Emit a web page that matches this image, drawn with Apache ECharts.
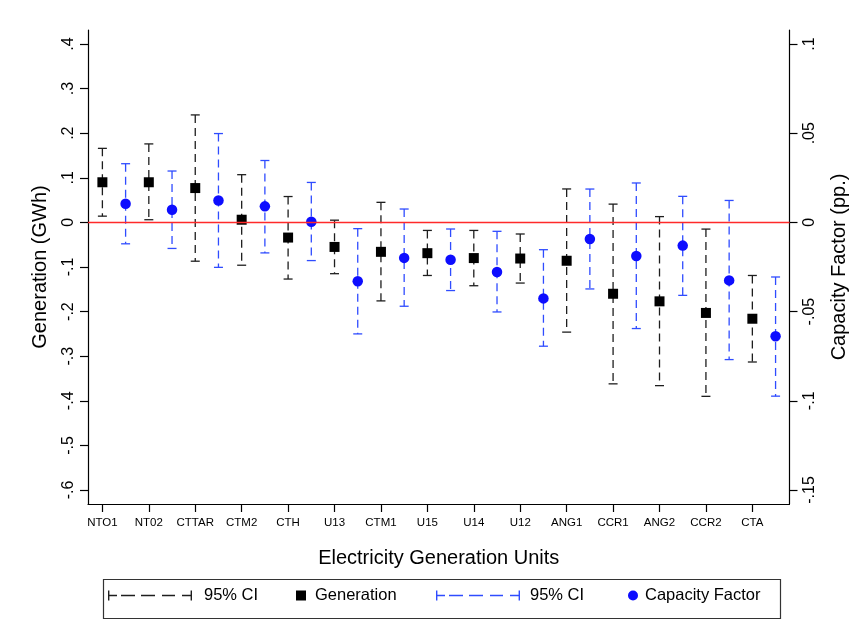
<!DOCTYPE html>
<html>
<head>
<meta charset="utf-8">
<script src="https://cdn.jsdelivr.net/npm/echarts@6/dist/echarts.min.js"></script>
<style>
  html, body { margin: 0; background: #fff; }
  #chart { width: 862px; height: 630px; }
</style>
</head>
<body>
<div id="chart"></div>
<script>
// Unit-level effects with 95% CIs: generation (left axis, GWh) and
// capacity factor (right axis, pp.). Generation sits on the unit tick,
// capacity factor half a slot to its right.
const units = ["NTO1", "NT02", "CTTAR", "CTM2", "CTH", "U13", "CTM1", "U15", "U14", "U12", "ANG1", "CCR1", "ANG2", "CCR2", "CTA"]

const genMean = [0.090, 0.090, 0.077, 0.006, -0.034, -0.055, -0.066, -0.069, -0.080, -0.081, -0.086, -0.160, -0.177, -0.203, -0.216]
const genLow = [0.014, 0.006, -0.087, -0.096, -0.127, -0.115, -0.176, -0.119, -0.142, -0.136, -0.246, -0.362, -0.366, -0.390, -0.313]
const genHigh = [0.166, 0.176, 0.241, 0.107, 0.058, 0.005, 0.045, -0.018, -0.018, -0.026, 0.075, 0.041, 0.013, -0.015, -0.119]

const cfMean = [0.0105, 0.0071, 0.0123, 0.0090, 0.0004, -0.0330, -0.0199, -0.0209, -0.0278, -0.0426, -0.0093, -0.0188, -0.0130, -0.0325, -0.0638]
const cfLow = [-0.0120, -0.0146, -0.0252, -0.0171, -0.0214, -0.0625, -0.0470, -0.0382, -0.0502, -0.0694, -0.0373, -0.0595, -0.0409, -0.0769, -0.0974]
const cfHigh = [0.0329, 0.0288, 0.0498, 0.0347, 0.0224, -0.0035, 0.0075, -0.0037, -0.0050, -0.0153, 0.0187, 0.0221, 0.0146, 0.0123, -0.0306]

const genTicks = [-0.6, -0.5, -0.4, -0.3, -0.2, -0.1, 0, 0.1, 0.2, 0.3, 0.4]
const cfTicks = [-0.15, -0.1, -0.05, 0, 0.05, 0.1]

const FONT = "'Liberation Sans', Arial, Helvetica, sans-serif"
const BLACK = "#1e1e1e"
const BLUE = "#0d0dff"
const BLUE_LINE = "#2f4cff"
const RED = "#ff2a2a"

// Stata-style numbers: no leading zero (".4", "-.05").
const stata = v => Math.abs(v) < 1e-9 ? "0" : String(+v.toFixed(3)).replace(/^(-?)0\./, "$1.")

const genX = i => 2 * i
const cfX = i => 2 * i + 1
const slots = units.map((u, i) => genX(i))

const ciIcon = "path://M0,0h1.4v10h-1.4z M0,4.3h9v1.4h-9z M13,4.3h14v1.4h-14z M33,4.3h14v1.4h-14z " +
  "M54,4.3h13v1.4h-13z M74,4.3h10v1.4h-10z M82.6,0h1.4v10h-1.4z"

function ciSeries(name, xOf, lo, hi, yAxisIndex, color) {
  return {
    name, type: "custom", yAxisIndex, z: 2,
    itemStyle: {color},
    encode: {x: 0, y: [1, 2]},
    data: units.map((u, i) => [xOf(i), lo[i], hi[i]]),
    renderItem(params, api) {
      const top = api.coord([api.value(0), api.value(2)])
      const bot = api.coord([api.value(0), api.value(1)])
      const w = 4.5
      const style = {stroke: color, lineWidth: 1.3, fill: null}
      return {
        type: "group",
        children: [
          {type: "line", shape: {x1: top[0], y1: top[1], x2: bot[0], y2: bot[1]}, style: {...style, lineDash: [8, 5]}},
          {type: "line", shape: {x1: top[0] - w, y1: top[1], x2: top[0] + w, y2: top[1]}, style},
          {type: "line", shape: {x1: bot[0] - w, y1: bot[1], x2: bot[0] + w, y2: bot[1]}, style},
        ],
      }
    },
  }
}

const legendText = {ciGen: "95% CI", gen: "Generation", ciCf: "95% CI", cf: "Capacity Factor"}
const legendItem = (name, left, itemWidth, icon, color, pad) => ({
  data: [{name, icon, itemStyle: {color}}],
  left, top: 587, padding: 0, itemWidth, itemHeight: 10,
  formatter: n => legendText[n],
  textStyle: {fontFamily: FONT, fontSize: 16.5, color: "#000", padding: [0, 0, 0, pad]},
  selectedMode: false,
})

const axisCommon = {
  axisLine: {onZero: false, lineStyle: {color: "#000", width: 1.2}},
  axisTick: {length: 8, lineStyle: {color: "#000", width: 1.2}},
  splitLine: {show: false},
  nameLocation: "middle",
  nameTextStyle: {fontFamily: FONT, fontSize: 20, color: "#000"},
}

const option = {
  animation: false,
  backgroundColor: "#fff",
  grid: {left: 88, right: 72.5, top: 30, bottom: 126},
  xAxis: {
    ...axisCommon,
    type: "value", min: -0.62, max: 29.6,
    name: "Electricity Generation Units", nameGap: 44,
    axisTick: {...axisCommon.axisTick, customValues: slots},
    axisLabel: {customValues: slots, formatter: v => units[Math.round(v / 2)], margin: 13,
      fontFamily: FONT, fontSize: 11.5, color: "#000"},
  },
  yAxis: [
    {
      ...axisCommon,
      type: "value", min: -0.6314, max: 0.4314,
      name: "Generation (GWh)", nameRotate: 90, nameGap: 38,
      axisTick: {...axisCommon.axisTick, customValues: genTicks},
      axisLabel: {customValues: genTicks, formatter: stata, rotate: 90, margin: 11,
        fontFamily: FONT, fontSize: 16, color: "#000"},
    },
    {
      ...axisCommon,
      type: "value", position: "right", min: -0.15785, max: 0.10785,
      name: "Capacity Factor (pp.)", nameRotate: 90, nameGap: 40,
      axisTick: {...axisCommon.axisTick, customValues: cfTicks},
      axisLabel: {customValues: cfTicks, formatter: stata, rotate: 90, margin: 12,
        fontFamily: FONT, fontSize: 16, color: "#000"},
    },
  ],
  legend: [
    legendItem("ciGen", 108, 84, ciIcon, BLACK, 7),
    legendItem("gen", 296, 10, "rect", "#000", 4),
    legendItem("ciCf", 436, 84, ciIcon, BLUE_LINE, 5),
    legendItem("cf", 628, 10, "circle", BLUE, 2),
  ],
  graphic: [{
    type: "rect", left: 101, top: 577, silent: true,
    shape: {width: 677, height: 39},
    style: {fill: null, stroke: "#333", lineWidth: 1.2},
  }],
  series: [
    {
      ...ciSeries("ciGen", genX, genLow, genHigh, 0, BLACK),
      markLine: {
        silent: true, symbol: "none", label: {show: false},
        lineStyle: {color: RED, width: 1.3, type: "solid"},
        data: [{yAxis: 0}],
      },
    },
    ciSeries("ciCf", cfX, cfLow, cfHigh, 1, BLUE_LINE),
    {
      name: "gen", type: "scatter", yAxisIndex: 0, z: 3,
      symbol: "rect", symbolSize: 10,
      itemStyle: {color: "#000", opacity: 1},
      data: units.map((u, i) => [genX(i), genMean[i]]),
    },
    {
      name: "cf", type: "scatter", yAxisIndex: 1, z: 3,
      symbol: "circle", symbolSize: 10.5,
      itemStyle: {color: BLUE, opacity: 1},
      data: units.map((u, i) => [cfX(i), cfMean[i]]),
    },
  ],
}

const chart = echarts.init(document.getElementById("chart"), null, {renderer: "canvas"})
chart.setOption(option)
</script>
</body>
</html>
